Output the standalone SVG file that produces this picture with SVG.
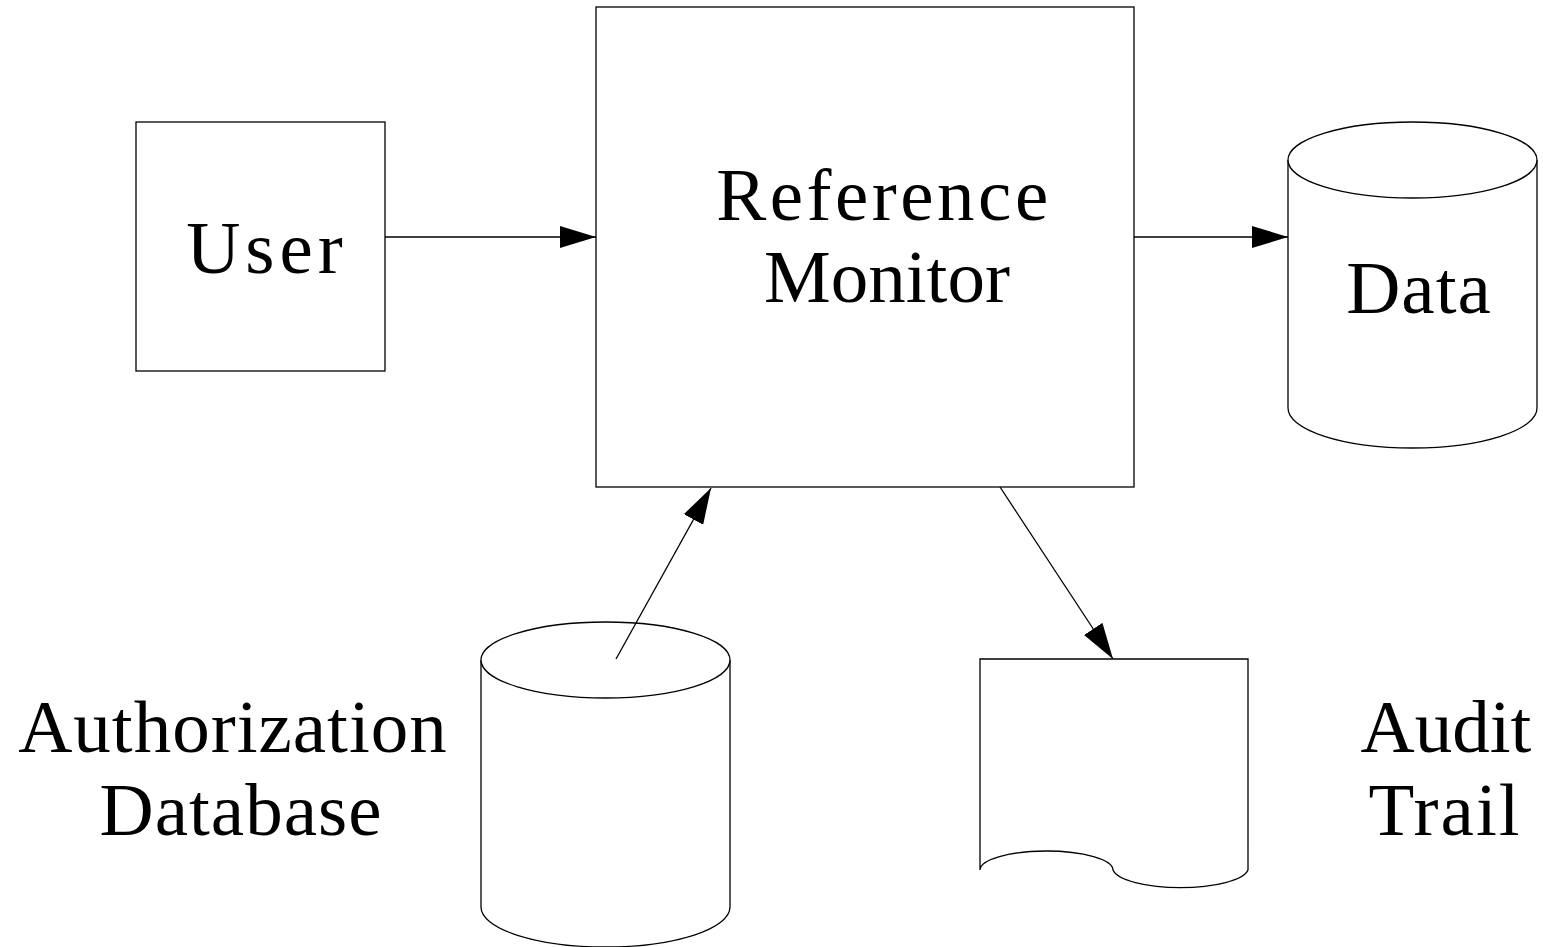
<svg xmlns="http://www.w3.org/2000/svg" width="1543" height="947" viewBox="0 0 1543 947">
  <style>
    .shape { fill: #ffffff; stroke: #000000; stroke-width: 1.3; }
    .edge { fill: none; stroke: #000000; stroke-width: 1.3; }
    .label { font-family: "Liberation Serif", "Times New Roman", serif; font-size: 75px; fill: #000000; text-anchor: middle; }
  </style>
  <defs>
    <marker id="arrow" viewBox="0 0 36 22" refX="36" refY="11" markerWidth="36" markerHeight="22" markerUnits="userSpaceOnUse" orient="auto">
      <path d="M0,0 L36,11 L0,22 Z" fill="#000000"/>
    </marker>
  </defs>
  <rect width="1543" height="947" fill="#ffffff"/>

  <g id="user">
    <rect class="shape" x="136" y="122" width="249" height="249"/>
    <text class="label" x="267" y="273" letter-spacing="5">User</text>
  </g>

  <g id="reference-monitor">
    <rect class="shape" x="596" y="7" width="538" height="480"/>
    <text class="label" x="884" y="220" letter-spacing="3.5">Reference</text>
    <text class="label" x="887" y="302">Monitor</text>
  </g>

  <g id="data">
    <path class="shape" d="M1288,160 V408 A124.5,40 0 0 0 1537,408 V160"/>
    <ellipse class="shape" cx="1412.5" cy="160" rx="124.5" ry="38"/>
    <text class="label" x="1419" y="313" letter-spacing="1">Data</text>
  </g>

  <g id="authorization-database">
    <path class="shape" d="M481,660 V907 A124.5,40 0 0 0 730,907 V660"/>
    <ellipse class="shape" cx="605.5" cy="660" rx="124.5" ry="38"/>
    <text class="label" x="233" y="752" letter-spacing="1">Authorization</text>
    <text class="label" x="241" y="835" letter-spacing="1">Database</text>
  </g>

  <g id="audit-trail">
    <path class="shape" d="M980,659 H1248 V870 A68,20 0 0 1 1113,870 A66.5,19 0 0 0 980,870 Z"/>
    <text class="label" x="1446" y="752">Audit</text>
    <text class="label" x="1445" y="835" letter-spacing="2">Trail</text>
  </g>

  <g id="connectors">
    <line class="edge" x1="385" y1="237" x2="596" y2="237" marker-end="url(#arrow)"/>
    <line class="edge" x1="1134" y1="237" x2="1288" y2="237" marker-end="url(#arrow)"/>
    <line class="edge" x1="616" y1="659" x2="711" y2="488" marker-end="url(#arrow)"/>
    <line class="edge" x1="1000" y1="487" x2="1113" y2="659" marker-end="url(#arrow)"/>
  </g>
</svg>
